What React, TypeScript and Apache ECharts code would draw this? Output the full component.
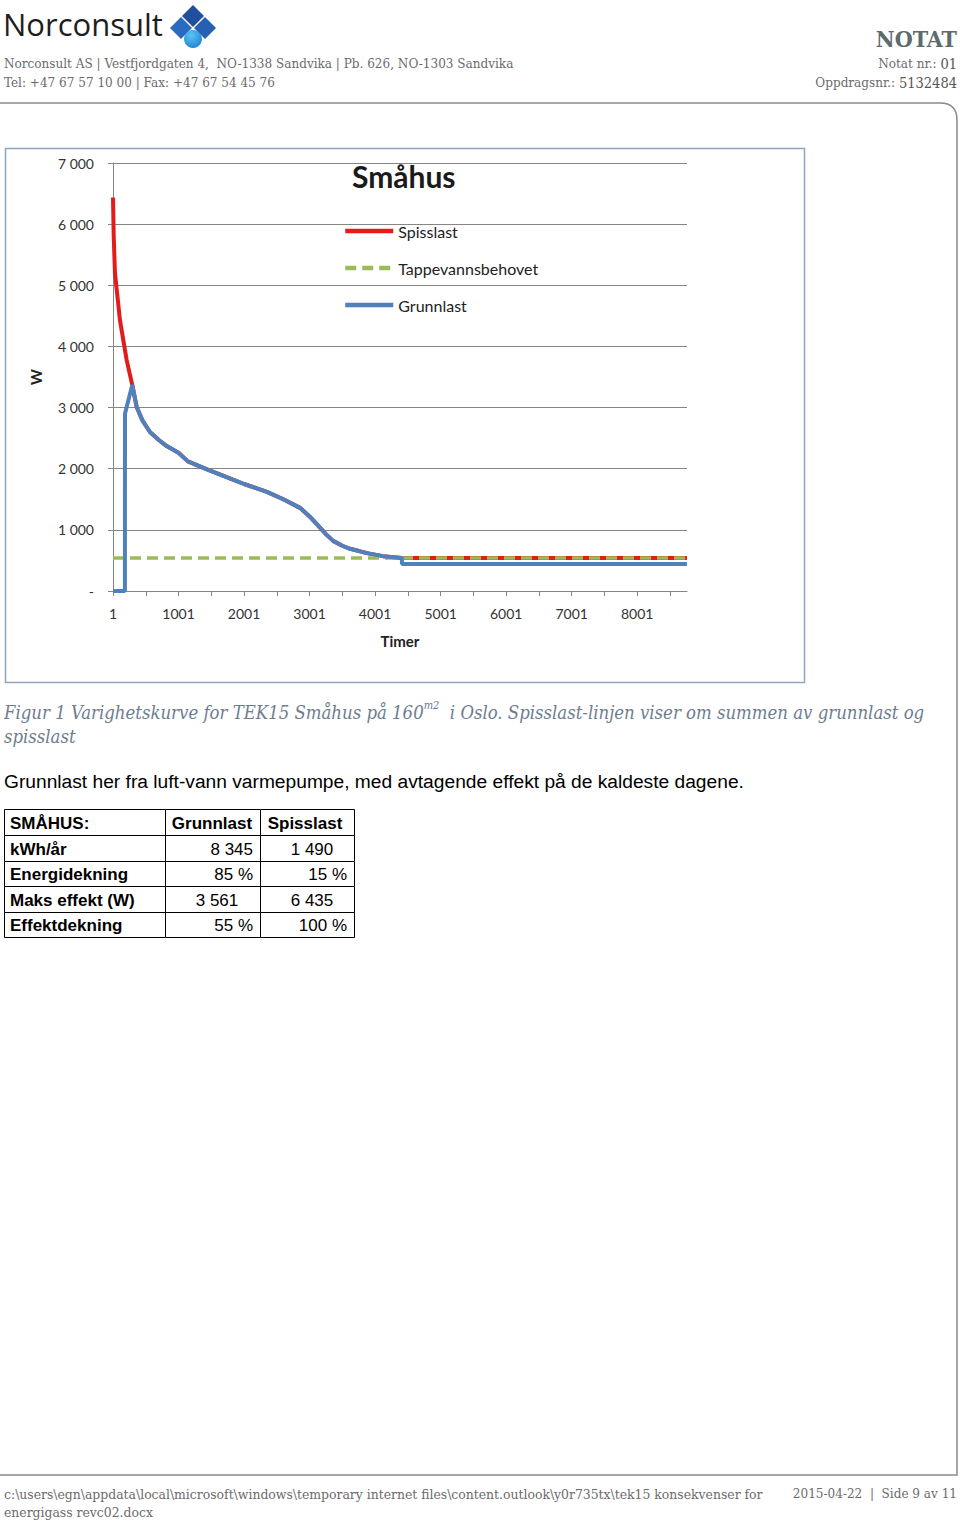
import React, { useEffect, useRef } from "react";
import * as echarts from "echarts";

// ---- Data ----
const seriesNames = ["Spisslast", "Tappevannsbehovet", "Grunnlast"];
const xTickLabelStep = 1000;

// Grunnlast (W) by hour
const grunnlastHours = [1, 183, 184, 205, 295, 362, 450, 565, 700, 820, 1000, 1145, 1435, 1832, 2001, 2350, 2600, 2855, 3001, 3115, 3250, 3360, 3500, 3620, 3877, 4122, 4410, 4411, 8760];
const grunnlastW = [0, 0, 2900, 2990, 3370, 3010, 2790, 2600, 2470, 2370, 2260, 2120, 1990, 1820, 1750, 1620, 1500, 1360, 1220, 1090, 930, 820, 740, 690, 620, 570, 540, 440, 440];

// Spisslast line (sum of grunnlast and spisslast, W) by hour
const spisslastHours = [1, 12, 31, 107, 209, 295, 362, 450, 565, 700, 820, 1000, 1145, 1435, 1832, 2001, 2350, 2600, 2855, 3001, 3115, 3250, 3360, 3500, 3620, 3877, 4122, 4410, 8760];
const spisslastW = [6435, 5800, 5200, 4430, 3780, 3370, 3010, 2790, 2600, 2470, 2370, 2260, 2120, 1990, 1820, 1750, 1620, 1500, 1360, 1220, 1090, 930, 820, 740, 690, 620, 570, 540, 540];

// Tappevannsbehovet (W)
const tappevannHours = [1, 8760];
const tappevannW = [540, 540];

// Table
const tableHeader = ["SMÅHUS:", "Grunnlast", "Spisslast"];
const tableRows = ["kWh/år", "Energidekning", "Maks effekt (W)", "Effektdekning"];
const tableGrunnlast = ["8 345", "85 %", "3 561", "55 %"];
const tableSpisslast = ["1 490", "15 %", "6 435", "100 %"];

const SERIF = "'DejaVu Serif Condensed', 'DejaVu Serif', serif";
const SANS = "'Liberation Sans', Arial, sans-serif";
const CHART_FONT = "Lato, 'Open Sans', sans-serif";

const toPairs = (hs: number[], vs: number[]) => hs.map((h, i) => [h - 1, vs[i]]);

const fmtThousands = (v: number) => {
  if (v === 0) return "-";
  const s = String(Math.round(v));
  return s.replace(/\B(?=(\d{3})+(?!\d))/g, " ");
};

export default function App() {
  const ref = useRef<HTMLDivElement>(null);
  useEffect(() => {
    document.body.style.margin = "0";
    if (!ref.current) return;
    echarts.graphic.registerShape(
      "frame",
      echarts.graphic.extendPath("M0 103 L940 103 Q957 103 957 120 L957 1475 L0 1475", {})
    );
    const chart = echarts.init(ref.current, undefined, { renderer: "svg" });

    const graphics: any[] = [];
    // page frame
    graphics.push({ type: "frame", x: 0, y: 0, style: { stroke: "#8a8a8a", lineWidth: 1.5, fill: "none" }, silent: true });
    // logo text
    graphics.push({ type: "text", x: 3, y: 8, style: { text: "Norconsult", font: "31px 'Open Sans', sans-serif", fill: "#1e1e1e" } });
    // logo diamonds
    const d = 11;
    const diamond = (cx: number, cy: number, color: any) => ({
      type: "polygon",
      shape: { points: [[cx, cy - d], [cx + d, cy], [cx, cy + d], [cx - d, cy]] },
      style: { fill: color },
    });
    graphics.push(diamond(193, 16, "#1f4f9e"));
    graphics.push(diamond(181, 28, "#2a6bc0"));
    graphics.push(diamond(205, 28, "#2660b2"));
    graphics.push({
      type: "circle",
      shape: { cx: 193, cy: 39, r: 9 },
      style: {
        fill: new echarts.graphic.RadialGradient(0.4, 0.3, 0.8, [
          { offset: 0, color: "#5cc4f5" },
          { offset: 1, color: "#1a7fd0" },
        ]),
      },
    });
    // header texts
    const HF = `13.4px ${SERIF}`;
    graphics.push({ type: "text", x: 4, y: 57, style: { text: "Norconsult AS | Vestfjordgaten 4,  NO-1338 Sandvika | Pb. 626, NO-1303 Sandvika", font: HF, fill: "#6b6b6b" } });
    graphics.push({ type: "text", x: 4, y: 76, style: { text: "Tel: +47 67 57 10 00 | Fax: +47 67 54 45 76", font: HF, fill: "#6b6b6b" } });
    graphics.push({ type: "text", x: 957, y: 27, style: { text: "NOTAT", font: `bold 23px ${SERIF}`, fill: "#5c6b6b", align: "right" } });
    graphics.push({
      type: "text", x: 957, y: 56,
      style: { text: "{a|Notat nr.: }{b|01}", align: "right", rich: { a: { font: HF, fill: "#6b6b6b" }, b: { font: `14.5px ${SERIF}`, fill: "#555" } } },
    });
    graphics.push({
      type: "text", x: 957, y: 75,
      style: { text: "{a|Oppdragsnr.: }{b|5132484}", align: "right", rich: { a: { font: HF, fill: "#6b6b6b" }, b: { font: `14.5px ${SERIF}`, fill: "#555" } } },
    });
    // chart border
    graphics.push({ type: "rect", shape: { x: 5.5, y: 148.5, width: 799, height: 534 }, style: { fill: "none", stroke: "#8ea5c4", lineWidth: 1.5 }, z: -1 });
    // caption
    const CF = `italic 18.4px ${SERIF}`;
    graphics.push({
      type: "text", x: 4, y: 700,
      style: {
        text: "{a|Figur 1 Varighetskurve for TEK15 Småhus på 160}{s|m2}{a|  i Oslo. Spisslast-linjen viser om summen av grunnlast og}",
        rich: {
          a: { font: CF, fill: "#6c7d8f", lineHeight: 24 },
          s: { font: `italic 11px ${SERIF}`, fill: "#6c7d8f", verticalAlign: "top", lineHeight: 24, padding: [0, 0, 9, 0] },
        },
      },
    });
    graphics.push({ type: "text", x: 4, y: 727, style: { text: "spisslast", font: CF, fill: "#6c7d8f" } });
    // body text
    graphics.push({ type: "text", x: 4, y: 772, style: { text: "Grunnlast her fra luft-vann varmepumpe, med avtagende effekt på de kaldeste dagene.", font: `19.2px ${SANS}`, fill: "#000" } });

    // table
    const rowYs = [809, 835, 861, 886, 912, 937];
    const colXs = [4, 165, 260, 354];
    for (let r = 0; r < 5; r++) {
      for (let c = 0; c < 3; c++) {
        graphics.push({
          type: "rect",
          shape: { x: colXs[c] + 0.5, y: rowYs[r] + 0.5, width: colXs[c + 1] - colXs[c], height: rowYs[r + 1] - rowYs[r] },
          style: { fill: "#fff", stroke: "#000", lineWidth: 1 },
        });
      }
    }
    const cellText = (text: string, x: number, y: number, align: string, bold: boolean) => ({
      type: "text", x, y,
      style: { text, font: `${bold ? "bold " : ""}17px ${SANS}`, fill: "#000", align, verticalAlign: "middle" },
      z: 10,
    });
    const midY = (r: number) => (rowYs[r] + rowYs[r + 1]) / 2 + 1;
    graphics.push(cellText(tableHeader[0], 10, midY(0), "left", true));
    graphics.push(cellText(tableHeader[1], 212, midY(0), "center", true));
    graphics.push(cellText(tableHeader[2], 305, midY(0), "center", true));
    tableRows.forEach((t, i) => {
      graphics.push(cellText(t, 10, midY(i + 1), "left", true));
      const g = tableGrunnlast[i];
      const s = tableSpisslast[i];
      const centered = i === 0 || i === 2;
      graphics.push(cellText(g, i === 2 ? 217 : 253, midY(i + 1), i === 2 ? "center" : "right", false));
      graphics.push(cellText(s, centered ? 312 : 347, midY(i + 1), centered ? "center" : "right", false));
    });

    // footer
    const FF = `13.8px ${SERIF}`;
    graphics.push({ type: "text", x: 4, y: 1487, style: { text: "c:\\users\\egn\\appdata\\local\\microsoft\\windows\\temporary internet files\\content.outlook\\y0r735tx\\tek15 konsekvenser for", font: FF, fill: "#6b6b6b" } });
    graphics.push({ type: "text", x: 4, y: 1505, style: { text: "energigass revc02.docx", font: FF, fill: "#6b6b6b" } });
    graphics.push({ type: "text", x: 957, y: 1487, style: { text: "2015-04-22  |  Side 9 av 11", font: `13.4px ${SERIF}`, fill: "#6b6b6b", align: "right" } });

    chart.setOption({
      animation: false,
      backgroundColor: "#fff",
      title: {
        text: "Småhus",
        left: 347,
        top: 156,
        textStyle: { fontFamily: CHART_FONT, fontWeight: "bold", fontSize: 30, color: "#1a1a1a" },
      },
      legend: {
        data: seriesNames,
        orient: "vertical",
        left: 338,
        top: 218,
        itemWidth: 48,
        itemHeight: 14,
        itemGap: 21,
        itemStyle: { opacity: 0 },
        lineStyle: { width: 4.5 },
        textStyle: { fontFamily: CHART_FONT, fontSize: 16, color: "#222" },
      },
      grid: { left: 113, right: 273, top: 163, bottom: 930 },
      xAxis: {
        type: "value",
        min: 0,
        max: 8760,
        interval: 500,
        name: "Timer",
        nameLocation: "middle",
        nameGap: 42,
        nameTextStyle: { fontFamily: CHART_FONT, fontWeight: "bold", fontSize: 15, color: "#222" },
        axisLine: { show: true, lineStyle: { color: "#868686", width: 1 } },
        axisTick: { show: true, length: 5, lineStyle: { color: "#868686" } },
        splitLine: { show: false },
        axisLabel: {
          fontFamily: CHART_FONT,
          fontSize: 14,
          color: "#333",
          margin: 15,
          showMaxLabel: false,
          formatter: (v: number) => (v % xTickLabelStep === 0 ? String(v + 1) : ""),
        },
      },
      yAxis: {
        type: "value",
        min: 0,
        max: 7000,
        interval: 1000,
        name: "W",
        nameLocation: "middle",
        nameGap: 70,
        nameRotate: 90,
        nameTextStyle: { fontFamily: CHART_FONT, fontWeight: "bold", fontSize: 15, color: "#222" },
        axisLine: { show: true, lineStyle: { color: "#868686", width: 1 } },
        axisTick: { show: true, length: 5, lineStyle: { color: "#868686" } },
        splitLine: { show: true, lineStyle: { color: "#868686", width: 1 } },
        axisLabel: {
          fontFamily: CHART_FONT,
          fontSize: 14,
          color: "#333",
          margin: 19,
          formatter: (v: number) => fmtThousands(v),
        },
      },
      series: [
        {
          name: "Spisslast",
          type: "line",
          data: toPairs(spisslastHours, spisslastW),
          showSymbol: false,
          symbol: "none",
          lineStyle: { color: "#e31b1b", width: 4 },
          itemStyle: { color: "#e31b1b" },
          z: 2,
        },
        {
          name: "Tappevannsbehovet",
          type: "line",
          data: toPairs(tappevannHours, tappevannW),
          showSymbol: false,
          symbol: "none",
          lineStyle: { color: "#9bbb59", width: 3.5, type: [11, 6] },
          itemStyle: { color: "#9bbb59" },
          z: 3,
        },
        {
          name: "Grunnlast",
          type: "line",
          data: toPairs(grunnlastHours, grunnlastW),
          showSymbol: false,
          symbol: "none",
          lineStyle: { color: "#4f81bd", width: 4 },
          itemStyle: { color: "#4f81bd" },
          z: 4,
        },
      ],
      graphic: graphics,
    });
    return () => chart.dispose();
  }, []);
  return <div ref={ref} style={{ position: "absolute", left: 0, top: 0, width: 960, height: 1521 }} />;
}
